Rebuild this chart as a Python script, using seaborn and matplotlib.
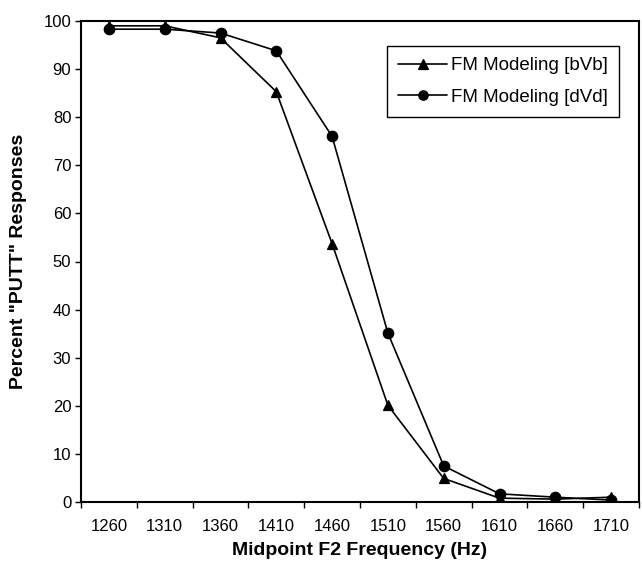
import pandas as pd
import numpy as np
import seaborn as sns
import matplotlib.pyplot as plt
from matplotlib.ticker import FixedLocator

# valores
freqs = ["1260", "1310", "1360", "1410", "1460", "1510", "1560", "1610", "1660", "1710"]
bvb = [99.0, 99.0, 96.5, 85.3, 53.7, 20.1, 4.9, 0.8, 0.6, 1.0]
dvd = [98.3, 98.3, 97.5, 93.8, 76.0, 35.1, 7.5, 1.7, 1.0, 0.4]

dados = pd.DataFrame({"freq": freqs, "bvb": bvb, "dvd": dvd})

sns.set_style("white")
plt.rcParams["font.family"] = ["Liberation Sans", "DejaVu Sans"]
plt.rcParams["text.color"] = "black"
plt.rcParams["axes.labelcolor"] = "black"
plt.rcParams["xtick.color"] = "black"
plt.rcParams["ytick.color"] = "black"

fig = plt.figure(figsize=(6.42, 5.73), dpi=100)
ax = fig.add_axes([81 / 642, 1 - 502 / 573, 558 / 642, 481 / 573])

sns.pointplot(data=dados, x="freq", y="bvb", order=freqs, color="black",
              markers="^", markersize=7.5, linewidth=1.2,
              label="FM Modeling [bVb]", ax=ax)
sns.pointplot(data=dados, x="freq", y="dvd", order=freqs, color="black",
              markers="o", markersize=7.5, linewidth=1.2,
              label="FM Modeling [dVd]", ax=ax)

ax.set_xlim(-0.5, len(freqs) - 0.5)
ax.set_ylim(0, 100)
ax.set_yticks(np.arange(0, 101, 10))
ax.tick_params(axis="y", direction="out", length=4, width=1, labelsize=12,
               left=True, pad=3)
ax.tick_params(axis="x", which="major", length=0, labelsize=12, pad=12)
ax.xaxis.set_minor_locator(FixedLocator(np.arange(-0.5, len(freqs), 1.0)))
ax.tick_params(axis="x", which="minor", direction="out", length=4, width=1,
               bottom=True)

for s in ax.spines.values():
    s.set_color("black")
    s.set_linewidth(1.5)

ax.set_xlabel("Midpoint F2 Frequency (Hz)", fontsize=14, fontweight="bold",
              labelpad=6)
ax.set_ylabel('Percent "PUTT" Responses', fontsize=14, fontweight="bold",
              labelpad=12)

leg = ax.legend(loc="upper right", bbox_to_anchor=(0.964, 0.948),
                borderaxespad=0, fontsize=13.5, frameon=True, fancybox=False,
                edgecolor="black", framealpha=1, handlelength=2.6,
                handletextpad=0.2, borderpad=0.6, labelspacing=0.75,
                markerscale=0.9)
leg.get_frame().set_linewidth(1.0)

plt.savefig("out.png", dpi=100)
